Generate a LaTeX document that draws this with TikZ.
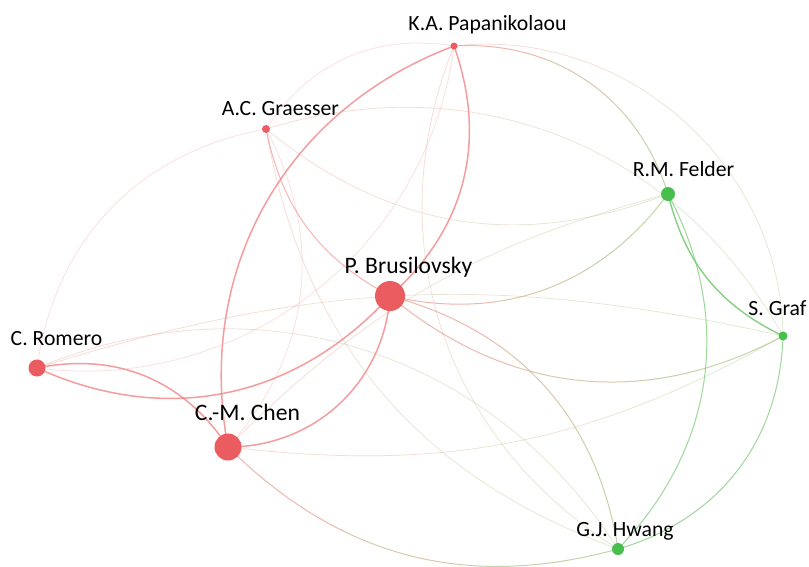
\documentclass[tikz,border=0pt]{standalone}
\usepackage{fontspec}
\setmainfont{Carlito}
\usetikzlibrary{calc}
\definecolor{nred}{RGB}{234,92,95}
\definecolor{ngreen}{RGB}{72,190,78}
\definecolor{ered}{RGB}{242,120,120}
\definecolor{egreen}{RGB}{115,200,110}
\definecolor{emix}{RGB}{195,165,120}
\definecolor{ered2}{RGB}{225,140,120}
\definecolor{egreen2}{RGB}{155,185,110}
% cross-cluster edge with a three-step colour change: #1 style, #2 red end, #3 green end, #4 bend
\newcommand\crossedge[4]{%
  \begin{scope}[even odd rule]
    \clip let \p1=($(#2)-(#3)$),\n1={veclen(\x1,\y1)*0.36} in
      (-10,-10) rectangle (820,580) (#2) circle[radius=\n1] (#3) circle[radius=\n1];
    \draw[#1,draw=emix] (#2) to[#4] (#3);
  \end{scope}
  \begin{scope}
    \clip let \p1=($(#2)-(#3)$),\n1={veclen(\x1,\y1)*0.36} in (#2) circle[radius=\n1];
    \draw[#1,draw=ered2] (#2) to[#4] (#3);
  \end{scope}
  \begin{scope}
    \clip let \p1=($(#2)-(#3)$),\n1={veclen(\x1,\y1)*0.36} in (#3) circle[radius=\n1];
    \draw[#1,draw=egreen2] (#2) to[#4] (#3);
  \end{scope}}
\begin{document}
\begin{tikzpicture}[x=1pt,y=-1pt,
  rednode/.style={circle,fill=nred,inner sep=0pt,draw=none},
  greennode/.style={circle,fill=ngreen,inner sep=0pt,draw=none},
  lab/.style={anchor=base,inner sep=0pt,font=\fontsize{21.7}{26}\selectfont},
  biglab/.style={anchor=base,inner sep=0pt,font=\fontsize{23.6}{28}\selectfont},
  rs/.style={draw=ered,line width=1.5pt,opacity=0.72},
  rm/.style={draw=ered,line width=1.0pt,opacity=0.55},
  rf/.style={draw=ered,line width=0.7pt,opacity=0.25},
  xm/.style={line width=1.0pt,opacity=0.6},
  xf/.style={line width=0.7pt,opacity=0.32},
  gs/.style={draw=egreen,line width=1.4pt,opacity=0.85},
  gm/.style={draw=egreen,line width=1.0pt,opacity=0.7}]
\useasboundingbox (0,0) rectangle (809,566);
\fill[white] (0,0) rectangle (809,566);
% node coordinates
\coordinate (Pa) at (454,46);
\coordinate (Gr) at (266,129);
\coordinate (Fe) at (668,194);
\coordinate (Br) at (390,296);
\coordinate (Sg) at (783,336);
\coordinate (Ro) at (37,368);
\coordinate (Ch) at (228,447);
\coordinate (Hw) at (618,549);
% faint edges
\draw[rf] (Pa) to[bend right=33] (Gr);
\draw[rf] (Pa) to[bend left=45] (Ro);
\draw[rf] (Gr) to[bend right=36] (Ro);
\draw[rf] (Gr) to[bend left=35] (Ch);
\crossedge{xf}{Pa}{Hw}{bend right=40}
\crossedge{xf}{Gr}{Sg}{bend left=39}
\crossedge{xf}{Gr}{Fe}{bend right=30}
\crossedge{xf}{Gr}{Hw}{bend right=30}
\crossedge{xf}{Ch}{Sg}{bend right=18}
\crossedge{xf}{Ch}{Fe}{bend left=15}
\crossedge{xf}{Ro}{Sg}{bend left=15}
\crossedge{xf}{Ro}{Hw}{bend left=40}
\crossedge{xf}{Pa}{Sg}{bend left=48}
% medium edges
\draw[rm] (Gr) to[bend right=25] (Br);
\crossedge{xm}{Pa}{Fe}{bend left=38}
\crossedge{xm}{Br}{Fe}{bend right=33}
\crossedge{xm}{Br}{Sg}{bend right=34}
\crossedge{xm}{Br}{Hw}{bend left=33}
\crossedge{xm}{Ch}{Hw}{bend right=30}
\draw[gm] (Fe) to[bend left=36] (Hw);
\draw[gm] (Sg) to[bend left=36] (Hw);
\draw[gs] (Fe) to[bend right=25] (Sg);
% strong edges
\draw[rs] (Pa) to[bend right=40] (Ch);
\draw[rs] (Pa) to[bend left=34] (Br);
\draw[rs] (Br) to[bend left=43] (Ch);
\draw[rs] (Br) to[bend left=36] (Ro);
\draw[rs] (Ro) to[bend left=34] (Ch);
% nodes
\node[rednode,minimum size=7pt] (nPa) at (Pa) {};
\node[rednode,minimum size=8pt] (nGr) at (Gr) {};
\node[greennode,minimum size=14pt] (nFe) at (Fe) {};
\node[rednode,minimum size=30pt] (nBr) at (Br) {};
\node[greennode,minimum size=9pt] (nSg) at (Sg) {};
\node[rednode,minimum size=17pt] (nRo) at (Ro) {};
\node[rednode,minimum size=27pt] (nCh) at (Ch) {};
\node[greennode,minimum size=12pt] (nHw) at (Hw) {};
% labels
\node[lab] (lPa) at (487.5,30) {K.A. Papanikolaou};
\node[lab] (lGr) at (280.5,115) {A.C. Graesser};
\node[lab] (lFe) at (683.5,176) {R.M. Felder};
\node[biglab] (lBr) at (408.5,273) {P. Brusilovsky};
\node[lab] (lSg) at (777.5,315) {S. Graf};
\node[lab] (lRo) at (56.5,345) {C. Romero};
\node[biglab] (lCh) at (247.5,420) {C.-M. Chen};
\node[lab] (lHw) at (625,536) {G.J. Hwang};
\end{tikzpicture}
\end{document}
